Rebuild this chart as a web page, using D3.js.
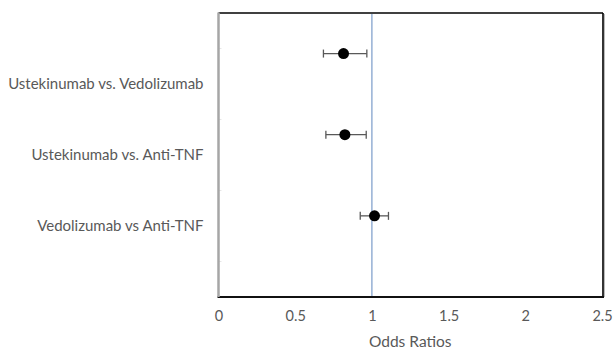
<!DOCTYPE html>
<html><head><meta charset="utf-8">
<script src="https://cdn.jsdelivr.net/npm/d3@7"></script>
<style>body{margin:0;background:#fff;}svg{display:block;}</style>
</head><body>
<script>
const categories = ["Ustekinumab vs. Vedolizumab", "Ustekinumab vs. Anti-TNF", "Vedolizumab vs Anti-TNF"];
const oddsRatios = [0.815, 0.824, 1.017];
const lowerCI = [0.684, 0.700, 0.924];
const upperCI = [0.967, 0.963, 1.108];
const xTicks = [0, 0.5, 1, 1.5, 2, 2.5];
const pointRows = [3, 2, 1];
const labelRows = [3, 2, 1];
const yTickRows = [0.5, 1.5, 2.5, 3.5];

const W = 614, H = 350;
const L = 218.5, R = 602, T = 13, B = 297;
const svg = d3.select("body").append("svg").attr("width", W).attr("height", H);
const font = "Lato, 'Open Sans', sans-serif";

const x = d3.scaleLinear().domain([0, 2.5]).range([L, R]);
const yLab = d3.scaleLinear().domain([0, 4]).range([B, T]);
const yPt = d3.scaleLinear().domain([0, 3.5]).range([B, T]);

// frame
svg.append("line").attr("x1", L).attr("x2", R + 1).attr("y1", T).attr("y2", T).attr("stroke", "#000").attr("stroke-width", 1.6);
svg.append("line").attr("x1", R + 1).attr("x2", R + 1).attr("y1", T).attr("y2", B).attr("stroke", "#000").attr("stroke-width", 1.6);
svg.append("line").attr("x1", R + 2.5).attr("x2", R + 2.5).attr("y1", T + 1).attr("y2", B).attr("stroke", "#bbb").attr("stroke-width", 1);

// x axis
const xAxis = d3.axisBottom(x).tickValues(xTicks).tickSize(0).tickPadding(14).tickFormat(d3.format("~g"));
const gx = svg.append("g").attr("transform", `translate(0,${B})`).call(xAxis);
gx.select(".domain").remove();
gx.selectAll("text").attr("font-family", font).attr("font-size", 14.5).attr("fill", "#595959");
svg.append("line").attr("x1", L - 1).attr("x2", R + 2).attr("y1", B).attr("y2", B).attr("stroke", "#111").attr("stroke-width", 2);

// y axis
const yAxis = d3.axisLeft(yLab).tickValues(labelRows).tickSize(0).tickPadding(15)
  .tickFormat((d, i) => categories[i]);
const gy = svg.append("g").attr("transform", `translate(${L},0)`).call(yAxis);
gy.select(".domain").remove();
gy.selectAll("text").attr("font-family", font).attr("font-size", 15).attr("fill", "#595959");
svg.selectAll(".ytick").data(yTickRows).enter().append("line").attr("class", "ytick")
  .attr("x1", L).attr("x2", L + 3).attr("y1", d => yLab(d)).attr("y2", d => yLab(d))
  .attr("stroke", "#e6e6e6").attr("stroke-width", 1);
svg.append("line").attr("x1", L).attr("x2", L).attr("y1", T - 0.5).attr("y2", B).attr("stroke", "#a6a6a6").attr("stroke-width", 2.5);

// reference line
svg.append("line").attr("x1", x(1)).attr("x2", x(1)).attr("y1", T + 1).attr("y2", B - 1)
  .attr("stroke", "#7b9cc9").attr("stroke-width", 1.2);

// error bars
const g = svg.append("g");
categories.forEach((c, i) => {
  const yy = yPt(pointRows[i]);
  g.append("line").attr("x1", x(lowerCI[i])).attr("x2", x(upperCI[i])).attr("y1", yy).attr("y2", yy).attr("stroke", "#595959").attr("stroke-width", 1.3);
  [lowerCI[i], upperCI[i]].forEach(v => {
    g.append("line").attr("x1", x(v)).attr("x2", x(v)).attr("y1", yy - 4).attr("y2", yy + 4).attr("stroke", "#595959").attr("stroke-width", 1.3);
  });
  g.append("circle").attr("cx", x(oddsRatios[i])).attr("cy", yy).attr("r", 5.5).attr("fill", "#000");
});

// axis title
svg.append("text").attr("x", (L + R) / 2).attr("y", 347).attr("text-anchor", "middle")
  .attr("font-family", font).attr("font-size", 15.5).attr("fill", "#595959").text("Odds Ratios");
</script>
</body></html>
